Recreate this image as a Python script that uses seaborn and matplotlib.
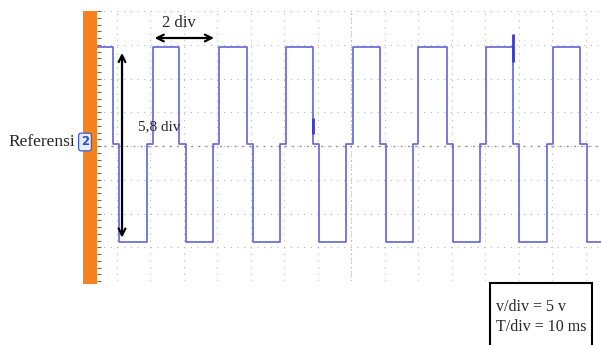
import numpy as np
import pandas as pd
import matplotlib
matplotlib.use('Agg')
import matplotlib.pyplot as plt
import seaborn as sns
from matplotlib.patches import Rectangle

# waveform (time in ms, level in volts, 5 V/div, 10 ms/div)
edge_ms = [4.0, 8.9, 10.7, 18.9, 20.7, 28.6, 30.6, 38.7, 40.5, 48.7, 50.6, 58.7,
           60.4, 68.4, 70.4, 78.4, 80.4, 88.5, 90.3, 98.3, 100.0, 108.4, 110.2,
           118.4, 120.1, 128.3, 130.0, 138.3, 140.1, 148.2, 150.2, 154.5]
level_v = [14.6, 0.3, -14.2, 0.3, 14.6, 0.3, -14.2, 0.3, 14.6, 0.3, -14.2, 0.3,
           14.6, 0.3, -14.2, 0.3, 14.6, 0.3, -14.2, 0.3, 14.6, 0.3, -14.2,
           0.3, 14.6, 0.3, -14.2, 0.3, 14.6, 0.3, -14.2, -14.2]

# glitches seen on the trace (time, from, to)
glitch_ms = [68.4, 128.3]
glitch_lo = [1.8, 12.4]
glitch_hi = [4.2, 16.6]

scope_settings = ['v/div = 5 v', 'T/div = 10 ms']

sns.set_style('white')
plt.rcParams['font.family'] = ['Liberation Serif', 'DejaVu Serif']

W, H = 601, 345
fig = plt.figure(figsize=(W / 100, H / 100), dpi=100)
ax = fig.add_axes([97 / W, 1 - 281 / H, (W - 97) / W, (281 - 11) / H])

trace = pd.DataFrame({'t': edge_ms, 'v': level_v})
sns.lineplot(data=trace, x='t', y='v', ax=ax, estimator=None, sort=False,
             drawstyle='steps-post', color='#6464d8', lw=1.2, zorder=3)
ax.vlines(glitch_ms, glitch_lo, glitch_hi, color='#3a3ad0', lw=2, zorder=4)

ax.set_xlim(4.03, 154.5)
ax.set_ylim(-20, 20)
ax.set_xticks(np.arange(10, 160, 10))
ax.set_yticks(np.arange(-20, 25, 5))
ax.set_yticks(np.arange(-20, 21, 1), minor=True)
ax.set_xticklabels([])
ax.set_yticklabels([])
ax.set_xlabel('')
ax.set_ylabel('')
ax.tick_params(axis='x', which='both', length=0)
ax.tick_params(axis='y', which='both', direction='in', length=3, width=0.8,
               color='#666666', left=True)
ax.grid(True, which='major', color='#b8b8b8', linestyle=(0, (1, 5)), lw=0.8)
ax.axhline(0, color='#888888', linestyle=(0, (1.2, 4)), lw=1.0, zorder=2)
ax.axvline(80, color='#b0b0b0', linestyle=(0, (1, 3)), lw=0.8, zorder=2)
for s in ax.spines.values():
    s.set_visible(False)

# measurement arrows
ax.annotate('', xy=(11.5, 14.2), xytext=(11.5, -14.0),
            arrowprops=dict(arrowstyle='<->', lw=1.6, color='black', mutation_scale=12))
ax.annotate('', xy=(20.4, 16.0), xytext=(39.8, 16.0),
            arrowprops=dict(arrowstyle='<->', lw=1.6, color='black', mutation_scale=12))
ax.text(16.2, 2.8, '5,8 div', fontsize=11, ha='left', va='center')
ax.text(28.5, 18.2, '2 div', fontsize=12, ha='center', va='center')

# orange channel bar on the left
fig.add_artist(Rectangle((83 / W, 1 - 284 / H), 14 / W, (284 - 11) / H,
                         transform=fig.transFigure, color='#f5821f', lw=0, zorder=1))
fig.text(8 / W, 1 - 142 / H, 'Referensi', fontsize=12.5, ha='left', va='center')
fig.text(85 / W, 1 - 142 / H, '2', fontsize=8.5, color='#2a4fc8', ha='center', va='center',
         family=['DejaVu Sans'], fontweight='bold', zorder=5,
         bbox=dict(boxstyle='round,pad=0.2', fc='#e6ecff', ec='#3a5fd0', lw=0.9))

# settings box at the bottom right
fig.add_artist(Rectangle((490 / W, -0.02), 102 / W, (H - 283) / H + 0.02,
                         transform=fig.transFigure, fill=False, ec='black', lw=1.5))
fig.text(496 / W, 1 - 307 / H, scope_settings[0], fontsize=11.5, ha='left', va='center')
fig.text(496 / W, 1 - 327 / H, scope_settings[1], fontsize=11.5, ha='left', va='center')

fig.savefig('out.png', dpi=100)
